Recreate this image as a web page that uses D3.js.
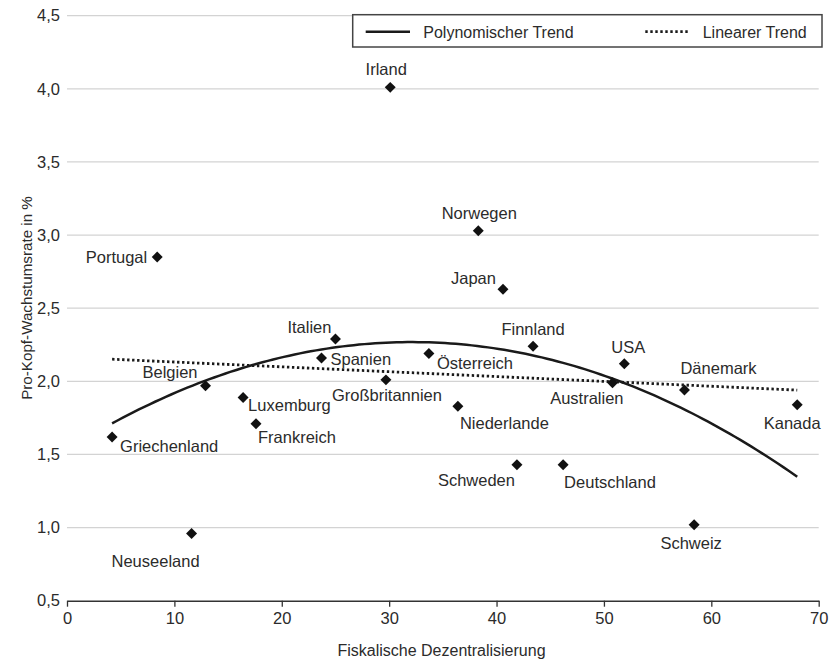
<!DOCTYPE html>
<html>
<head>
    <meta charset="UTF-8">
    <title>Fiskalische Dezentralisierung und Wachstum</title>
    <script type="text/javascript" src="https://d3js.org/d3.v7.min.js"></script>
    <style>
        body { margin: 0; background: #fff; }
        svg { display: block; font-family: "Liberation Sans", Arial, sans-serif; }
    </style>
</head>
<body>
    <div id="chart"></div>

    <script>
        // Länder, fiskalische Dezentralisierung (x) und Pro-Kopf-Wachstum in % (y)
        var countries = ["Irland", "Portugal", "Norwegen", "Japan", "Italien", "Spanien", "Belgien",
            "Luxemburg", "Frankreich", "Griechenland", "Neuseeland", "Großbritannien", "Österreich",
            "Finnland", "USA", "Australien", "Dänemark", "Kanada", "Niederlande", "Schweden",
            "Deutschland", "Schweiz"];
        var decentralisation = [30.1, 8.4, 38.3, 40.6, 25.0, 23.7, 12.9, 16.4, 17.6, 4.2, 11.6, 29.7,
            33.7, 43.4, 51.9, 50.8, 57.5, 68.0, 36.4, 41.9, 46.2, 58.4];
        var growth = [4.01, 2.85, 3.03, 2.63, 2.29, 2.16, 1.97, 1.89, 1.71, 1.62, 0.96, 2.01,
            2.19, 2.24, 2.12, 1.99, 1.94, 1.84, 1.83, 1.43, 1.43, 1.02];

        var xTicks = [0, 10, 20, 30, 40, 50, 60, 70];
        var yTicks = [0.5, 1.0, 1.5, 2.0, 2.5, 3.0, 3.5, 4.0, 4.5];
        var legendLabels = ["Polynomischer Trend", "Linearer Trend"];

        // where each label sits relative to its point: [anchor, dx, dy]
        var labelPos = {
            "Irland": ["middle", -4, -12], "Portugal": ["end", -10, 6], "Norwegen": ["middle", 1, -12],
            "Japan": ["end", -7, -5], "Italien": ["end", -4, -6], "Spanien": ["start", 9, 7],
            "Belgien": ["end", -8, -8], "Luxemburg": ["start", 5, 14], "Frankreich": ["start", 2, 19],
            "Griechenland": ["start", 8, 15], "Neuseeland": ["middle", -36, 34],
            "Großbritannien": ["middle", 1, 21], "Österreich": ["start", 8, 15],
            "Finnland": ["middle", 0, -11], "USA": ["middle", 4, -11], "Australien": ["end", 11, 21],
            "Dänemark": ["start", -4, -16], "Kanada": ["middle", -5, 24], "Niederlande": ["start", 2, 23],
            "Schweden": ["end", -2, 21], "Deutschland": ["start", 1, 23], "Schweiz": ["middle", -3, 24]
        };

        var width = 830, height = 665;
        var textColor = "#2b2b2b";

        var points = countries.map(function (c, i) {
            return {name: c, x: decentralisation[i], y: growth[i]};
        });

        var x = d3.scaleLinear().domain([0, 70]).range([67, 818.7]);
        var y = d3.scaleLinear().domain([0.5, 4.5]).range([600.7, 15.7]);

        var svg = d3.select("#chart").append("svg")
            .attr("width", width).attr("height", height);

        // horizontal grid
        svg.append("g")
            .selectAll("line")
            .data(yTicks.slice(1))
            .enter().append("line")
            .attr("x1", x(0)).attr("x2", x(70))
            .attr("y1", function (d) { return y(d); })
            .attr("y2", function (d) { return y(d); })
            .attr("stroke", "#d3d3d3")
            .attr("stroke-width", 1.3);

        // y tick labels (no axis line)
        var yAxis = svg.append("g")
            .attr("transform", "translate(" + x(0) + ",0)")
            .call(d3.axisLeft(y).tickValues(yTicks).tickSize(0).tickPadding(7)
                .tickFormat(function (d) { return d3.format(".1f")(d).replace(".", ","); }));
        yAxis.select(".domain").remove();
        yAxis.selectAll("text")
            .attr("font-size", 16.5)
            .attr("font-family", "Liberation Sans, Arial, sans-serif")
            .attr("fill", textColor);

        // x axis
        var xAxis = svg.append("g")
            .attr("transform", "translate(0," + y(0.5) + ")")
            .call(d3.axisBottom(x).tickValues(xTicks).tickSize(6).tickSizeOuter(0).tickPadding(6));
        xAxis.select(".domain").attr("stroke", "#333").attr("stroke-width", 1.5);
        xAxis.selectAll(".tick line").attr("stroke", "#333").attr("stroke-width", 1.3);
        xAxis.selectAll("text")
            .attr("font-size", 16.5)
            .attr("font-family", "Liberation Sans, Arial, sans-serif")
            .attr("fill", textColor);

        // axis titles
        svg.append("text")
            .attr("x", 441.5).attr("y", 656)
            .attr("text-anchor", "middle")
            .attr("font-size", 16)
            .attr("fill", textColor)
            .text("Fiskalische Dezentralisierung");

        svg.append("text")
            .attr("transform", "translate(32,298) rotate(-90)")
            .attr("text-anchor", "middle")
            .attr("font-size", 15.2)
            .attr("fill", textColor)
            .text("Pro-Kopf-Wachstumsrate in %");

        // least-squares fits of the points
        function polyFit(xs, ys, degree) {
            var n = degree + 1, A = [], b = [];
            for (var r = 0; r < n; r++) {
                A.push([]);
                for (var c = 0; c < n; c++) A[r].push(d3.sum(xs, function (v) { return Math.pow(v, r + c); }));
                b.push(d3.sum(xs, function (v, i) { return Math.pow(v, r) * ys[i]; }));
            }
            // gaussian elimination
            for (var k = 0; k < n; k++) {
                for (var i = k + 1; i < n; i++) {
                    var f = A[i][k] / A[k][k];
                    for (var j = k; j < n; j++) A[i][j] -= f * A[k][j];
                    b[i] -= f * b[k];
                }
            }
            var coef = new Array(n);
            for (var i2 = n - 1; i2 >= 0; i2--) {
                var s = b[i2];
                for (var j2 = i2 + 1; j2 < n; j2++) s -= A[i2][j2] * coef[j2];
                coef[i2] = s / A[i2][i2];
            }
            return coef;
        }
        function evalPoly(coef, v) {
            return coef.reduce(function (acc, c, i) { return acc + c * Math.pow(v, i); }, 0);
        }

        var ext = d3.extent(decentralisation);
        var quad = polyFit(decentralisation, growth, 2);
        var lin = polyFit(decentralisation, growth, 1);
        var xs = d3.range(ext[0], ext[1], 0.5).concat([ext[1]]);

        var line = d3.line()
            .x(function (d) { return x(d[0]); })
            .y(function (d) { return y(d[1]); });

        svg.append("path")
            .datum(xs.map(function (v) { return [v, evalPoly(quad, v)]; }))
            .attr("d", line)
            .attr("fill", "none")
            .attr("stroke", "#1a1a1a")
            .attr("stroke-width", 2.5);

        svg.append("path")
            .datum([[ext[0], evalPoly(lin, ext[0])], [ext[1], evalPoly(lin, ext[1])]])
            .attr("d", line)
            .attr("fill", "none")
            .attr("stroke", "#1a1a1a")
            .attr("stroke-width", 2.8)
            .attr("stroke-dasharray", "2.4,2.6");

        // points
        svg.append("g")
            .selectAll("path")
            .data(points)
            .enter().append("path")
            .attr("d", d3.symbol().type(d3.symbolSquare).size(60))
            .attr("transform", function (d) { return "translate(" + x(d.x) + "," + y(d.y) + ") rotate(45)"; })
            .attr("fill", "#111");

        // labels
        svg.append("g")
            .selectAll("text")
            .data(points)
            .enter().append("text")
            .attr("x", function (d) { return x(d.x) + labelPos[d.name][1]; })
            .attr("y", function (d) { return y(d.y) + labelPos[d.name][2]; })
            .attr("text-anchor", function (d) { return labelPos[d.name][0]; })
            .attr("font-size", 16.5)
            .attr("fill", textColor)
            .text(function (d) { return d.name; });

        // legend
        var legend = svg.append("g");
        legend.append("rect")
            .attr("x", 352.7).attr("y", 14.7)
            .attr("width", 469.3).attr("height", 32.3)
            .attr("fill", "#fff")
            .attr("stroke", "#444")
            .attr("stroke-width", 1.5);
        legend.append("line")
            .attr("x1", 365.7).attr("x2", 410).attr("y1", 31.7).attr("y2", 31.7)
            .attr("stroke", "#1a1a1a").attr("stroke-width", 2.5);
        legend.append("line")
            .attr("x1", 645.3).attr("x2", 690).attr("y1", 31.7).attr("y2", 31.7)
            .attr("stroke", "#1a1a1a").attr("stroke-width", 2.8)
            .attr("stroke-dasharray", "2.4,2.6");
        legend.selectAll("text.leg")
            .data(legendLabels)
            .enter().append("text")
            .attr("class", "leg")
            .attr("x", function (d, i) { return i === 0 ? 423.3 : 702.7; })
            .attr("y", 37.5)
            .attr("font-size", 16)
            .attr("fill", textColor)
            .text(function (d) { return d; });
    </script>
</body>
</html>
